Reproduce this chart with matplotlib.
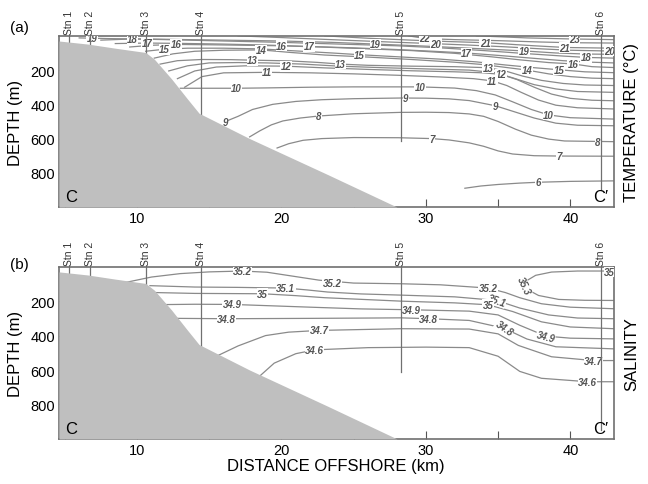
import matplotlib
matplotlib.use("Agg")
import matplotlib.pyplot as plt
import matplotlib.transforms as mtransforms

plt.rcParams['font.family'] = ['Liberation Sans', 'DejaVu Sans']

# bathymetry (distance km, depth m)
bathy_x = [4.6, 6.6, 8.5, 10.6, 11.2, 12.4, 13.5, 14.3, 17.8, 23.2, 28.0]
bathy_d = [30, 48, 72, 97, 136, 252, 369, 452, 600, 810, 1000]

# stations
stn_names = ['Stn 1', 'Stn 2', 'Stn 3', 'Stn 4', 'Stn 5', 'Stn 6']
stn_x = [5.3, 6.76, 10.6, 14.4, 28.3, 42.1]
stn_end_temp = [1000, 1000, 1000, 1000, 615, 900]
stn_end_sal = [1000, 1000, 1000, 1000, 610, 950]

# isotherms (km, depth)
temp_lines = [
    [(33.5, 0), (35, 5), (37, 12), (40, 18), (43, 22)],
    [(28.8, 0), (30, 16), (32, 22), (35, 28), (38, 36), (40, 40), (43, 42)],
    [(23, 0), (26, 14), (29, 25), (31.5, 33), (34.1, 40), (36, 50), (37.5, 58), (39.7, 68), (43, 72)],
    [(17, 0), (20, 10), (24, 24), (27.5, 36), (30.7, 46), (33, 54), (35.5, 64), (38, 76), (40, 84), (43, 89)],
    [(6, 12), (8, 16), (12, 20), (16, 25), (20, 30), (23.5, 38), (26.5, 48), (30, 60), (33, 72), (36.8, 88), (39, 100), (41, 106), (43, 108)],
    [(7.5, 25), (9.7, 18), (12, 22), (16, 30), (20, 38), (24, 48), (28, 58), (31, 70), (34, 86), (37, 104), (39.5, 118), (41.1, 126), (43, 130)],
    [(8.5, 45), (10.7, 42), (13, 44), (16, 48), (19, 54), (21.9, 62), (25, 70), (28, 80), (30.5, 90), (32.8, 100), (35, 114), (37, 128), (39.5, 145), (41.5, 154), (43, 158)],
    [(9.5, 65), (11, 55), (12.7, 50), (15, 52), (17.5, 55), (20, 58), (23, 66), (26, 76), (29, 86), (32, 102), (34.5, 122), (36.5, 140), (38.5, 156), (40.2, 164), (41.5, 180), (43, 185)],
    [(10.6, 90), (11.9, 78), (13.5, 72), (16, 72), (18.5, 76), (21, 88), (23.5, 100), (25.4, 110), (28, 122), (31, 136), (33.5, 152), (35.5, 170), (37.5, 186), (39.2, 198), (41, 210), (43, 215)],
    [(11.2, 130), (12.5, 105), (14, 90), (16, 84), (18.6, 82), (20.5, 96), (23, 112), (26, 124), (29, 138), (32, 154), (34, 168), (35.5, 184), (37, 200), (38.5, 222), (40, 238), (41.5, 247), (43, 250)],
    [(11.6, 165), (12.8, 145), (14.5, 138), (16.5, 139), (18.0, 142), (20.5, 146), (22.5, 155), (24.1, 165), (26, 172), (29, 177), (32, 180), (34.3, 186), (35.5, 205), (36.7, 235), (38, 260), (39.5, 278), (41, 287), (43, 290)],
    [(12.2, 205), (13.5, 175), (15, 158), (17, 156), (19, 158), (21.5, 165), (24, 177), (27, 186), (30, 193), (33, 200), (34.8, 215), (36, 245), (37.5, 285), (39, 310), (40.5, 325), (43, 330)],
    [(12.8, 250), (14, 205), (15.5, 182), (17.5, 175), (20.3, 177), (23, 187), (26, 196), (29, 204), (32, 210), (34, 216), (35.2, 225), (36.3, 255), (37.5, 300), (38.7, 340), (40, 365), (41.5, 376), (43, 379)],
    [(13.3, 300), (14.5, 238), (16, 216), (19, 213), (22, 216), (25, 222), (28, 230), (31, 240), (33.3, 250), (34.6, 263), (35.6, 290), (36.6, 330), (37.8, 375), (39, 405), (40.5, 420), (43, 427)],
    [(13.0, 306), (15, 306), (16.9, 306), (19, 304), (22, 300), (25, 298), (29.6, 298), (32, 305), (33.5, 320), (34.8, 345), (36, 385), (37.3, 430), (38.5, 462), (40, 478), (43, 486)],
    [(16.1, 501), (17, 470), (18, 430), (19.4, 400), (21, 383), (22.8, 373), (25, 367), (28.3, 363), (30, 364), (31.6, 368), (33, 378), (34.8, 408), (36, 440), (37.5, 480), (39, 510), (40.5, 522), (43, 525)],
    [(17.8, 590), (18.5, 555), (19.3, 520), (20.1, 497), (21.3, 480), (22.6, 468), (25, 455), (28.2, 447), (30, 446), (31.6, 448), (33, 456), (34, 470), (35, 500), (36.2, 545), (37.3, 580), (38.5, 603), (39.6, 614), (43, 618)],
    [(19.7, 655), (20.5, 630), (21.5, 610), (22.8, 600), (25, 594), (28.1, 595), (30.4, 600), (31.6, 608), (33, 625), (34, 645), (35, 672), (36, 690), (37.5, 700), (39.2, 702), (43, 703)],
    [(32.7, 890), (33.8, 877), (35, 868), (36.5, 860), (37.8, 855), (40, 850), (43, 847)],
]
temp_labels = [
    ('19', 6.9, 12), ('18', 9.7, 17), ('17', 10.7, 42), ('16', 12.7, 50), ('15', 11.9, 78),
    ('16', 20.0, 58), ('17', 21.9, 62), ('14', 18.6, 82), ('13', 18.0, 142), ('12', 20.3, 177),
    ('11', 19.0, 213), ('10', 16.9, 306), ('15', 25.4, 110), ('13', 24.1, 165), ('19', 26.5, 48),
    ('22', 29.9, 14), ('20', 30.7, 46), ('21', 34.1, 40), ('17', 32.8, 100), ('19', 36.8, 88),
    ('21', 39.6, 70), ('23', 40.3, 16), ('18', 41.1, 126), ('16', 40.2, 162), ('15', 39.2, 198),
    ('14', 37.0, 200), ('13', 34.3, 186), ('12', 35.2, 225), ('11', 34.6, 263), ('10', 29.6, 298),
    ('10', 38.5, 462), ('9', 28.6, 364), ('9', 34.8, 408), ('9', 16.1, 501), ('8', 22.6, 468),
    ('8', 41.9, 618), ('7', 30.4, 600), ('7', 39.2, 702), ('6', 37.8, 855), ('20', 42.7, 89),
]

# isohalines (km, depth)
sal_lines = [
    [(43, 25), (40.5, 25), (38.7, 31), (37.6, 50), (37.0, 80), (36.9, 109), (37.2, 140), (37.8, 167), (39.2, 190), (41, 195), (43, 196)],
    [(9.0, 95), (11, 60), (13, 40), (15, 30), (17.3, 25), (19, 32), (20.8, 55), (22.6, 78), (25, 95), (28.3, 99), (31, 105), (34.3, 124), (35.5, 150), (36.5, 180), (38, 215), (40, 235), (43, 244)],
    [(10.9, 110), (14, 118), (17, 120), (20.3, 124), (21.8, 135), (23.2, 147), (25.5, 158), (28.3, 165), (32, 175), (34.9, 196), (36.5, 240), (38.5, 280), (40.5, 298), (43, 302)],
    [(11.2, 150), (14, 155), (18.7, 157), (21, 168), (23, 180), (28.3, 200), (32, 210), (34.3, 221), (36, 260), (38, 320), (40, 350), (43, 360)],
    [(11.8, 220), (14, 218), (16.6, 219), (22, 235), (25.5, 245), (29.0, 250), (33, 258), (35, 280), (36.5, 340), (38.3, 403), (40, 415), (43, 419)],
    [(12.8, 300), (16.2, 302), (22, 300), (28.3, 297), (30.2, 302), (33, 312), (35.4, 357), (37, 420), (39, 465), (43, 477)],
    [(15.5, 520), (17, 460), (18.9, 400), (20.5, 380), (22.6, 370), (28.3, 360), (33, 362), (35, 390), (36.4, 457), (38.7, 523), (41.6, 545), (43, 545)],
    [(18.3, 650), (19.5, 560), (21, 505), (22.3, 483), (26, 470), (30, 467), (33, 470), (35, 520), (36.5, 608), (38, 648), (41.2, 668), (43, 668)],
]
sal_labels = [
    ('35.2', 17.3, 25, 0), ('35.1', 20.3, 124, 0), ('35', 18.7, 157, 0), ('34.9', 16.6, 219, 0),
    ('34.8', 16.2, 302, 0), ('34.7', 22.6, 370, 0), ('34.6', 22.3, 483, 0), ('35.2', 23.5, 92, 0),
    ('34.9', 29.0, 250, 0), ('34.8', 30.2, 302, 0), ('35.2', 34.3, 124, 0), ('35.1', 34.9, 196, -20),
    ('35', 34.3, 221, 0), ('34.8', 35.4, 357, -35), ('34.9', 38.3, 403, -15), ('34.7', 41.6, 547, 0),
    ('34.6', 41.2, 668, 0), ('35.3', 36.8, 109, -65), ('35', 42.7, 28, 0),
]

line_col = '#8a8a8a'
lab_col = '#555555'

fig = plt.figure(figsize=(6.48, 4.85), dpi=100)
ax1 = fig.add_axes([0.091, 0.571, 0.856, 0.353])
ax2 = fig.add_axes([0.091, 0.093, 0.856, 0.355])


def draw_panel(ax, lines, labels, stn_end, right_label):
    for ln in lines:
        ax.plot([p[0] for p in ln], [p[1] for p in ln], color=line_col, lw=0.9, zorder=2)
    for lab in labels:
        rot = lab[3] if len(lab) > 3 else 0
        ax.text(lab[1], lab[2], lab[0], fontsize=7, style='italic', fontweight='bold',
                color=lab_col, ha='center', va='center', rotation=rot, zorder=3,
                bbox=dict(facecolor='white', edgecolor='none', pad=0.3), clip_on=True)
    for sx, se in zip(stn_x, stn_end):
        ax.plot([sx, sx], [0, se], color='#707070', lw=0.9, zorder=4)
    ax.fill_between(bathy_x, bathy_d, 1000, color='#bfbfbf', lw=0, zorder=5)

    trans = mtransforms.blended_transform_factory(ax.transData, ax.transAxes)
    for name, sx in zip(stn_names, stn_x):
        ax.text(sx, 1.012, name, transform=trans, rotation=90, ha='center', va='bottom',
                fontsize=7.5, color='#333333')

    ax.set_xlim(4.6, 43)
    ax.set_ylim(1000, 0)
    ax.set_xticks([5, 10, 15, 20, 25, 30, 35, 40])
    ax.set_xticklabels(['', '10', '', '20', '', '30', '', '40'])
    ax.set_yticks([200, 400, 600, 800])
    ax.tick_params(direction='in', length=6, color='#555555', labelsize=10.5, pad=3)
    for sp in ax.spines.values():
        sp.set_color('#707070')
        sp.set_linewidth(1.2)
    ax.text(-0.079, 0.5, 'DEPTH (m)', transform=ax.transAxes, rotation=90,
            ha='center', va='center', fontsize=12)
    ax.text(1.032, 0.5, right_label, transform=ax.transAxes, rotation=90,
            ha='center', va='center', fontsize=12)
    ax.text(0.012, 0.015, 'C', transform=ax.transAxes, ha='left', va='bottom', fontsize=12, zorder=6)
    ax.text(0.99, 0.015, "C\u2032", transform=ax.transAxes, ha='right', va='bottom', fontsize=12, zorder=6)


draw_panel(ax1, temp_lines, temp_labels, stn_end_temp, 'TEMPERATURE (\u00b0C)')
draw_panel(ax2, sal_lines, sal_labels, stn_end_sal, 'SALINITY')
ax2.set_xlabel('DISTANCE OFFSHORE (km)', fontsize=12, labelpad=1)

fig.text(0.015, 1 - 28 / 485, '(a)', fontsize=11, va='center')
fig.text(0.015, 1 - 265 / 485, '(b)', fontsize=11, va='center')

fig.savefig('out.png', dpi=100)
